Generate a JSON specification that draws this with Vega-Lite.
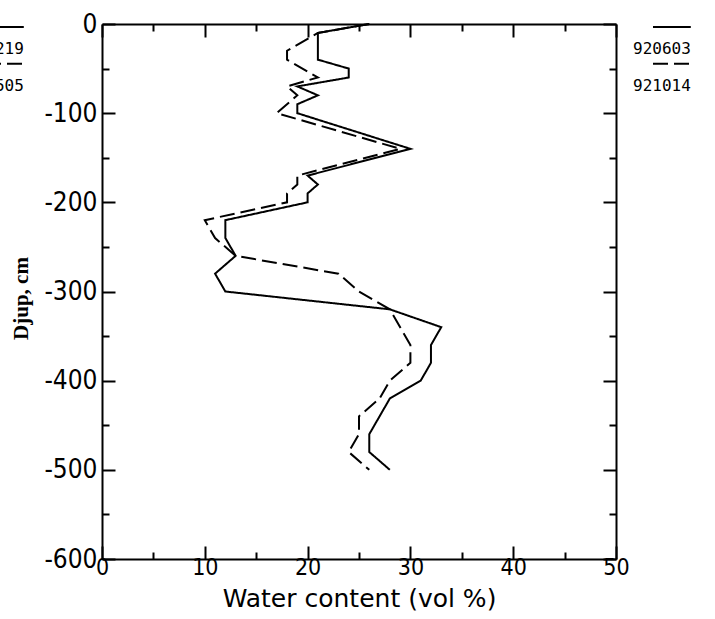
{
  "$schema": "https://vega.github.io/schema/vega-lite/v6.json",
  "width": 514,
  "height": 535,
  "autosize": "none",
  "padding": {"left": 102, "top": 24, "right": 99, "bottom": 60},
  "background": "white",
  "config": {"view": {"stroke": null}},
  "data": {"values": [
    {"s": "920603", "i": 0, "w": 26, "d": 0},
    {"s": "920603", "i": 1, "w": 21, "d": -10},
    {"s": "920603", "i": 2, "w": 21, "d": -40},
    {"s": "920603", "i": 3, "w": 24, "d": -50},
    {"s": "920603", "i": 4, "w": 24, "d": -60},
    {"s": "920603", "i": 5, "w": 19, "d": -70},
    {"s": "920603", "i": 6, "w": 21, "d": -80},
    {"s": "920603", "i": 7, "w": 19, "d": -90},
    {"s": "920603", "i": 8, "w": 19, "d": -100},
    {"s": "920603", "i": 9, "w": 30, "d": -140},
    {"s": "920603", "i": 10, "w": 20, "d": -170},
    {"s": "920603", "i": 11, "w": 21, "d": -180},
    {"s": "920603", "i": 12, "w": 20, "d": -190},
    {"s": "920603", "i": 13, "w": 20, "d": -200},
    {"s": "920603", "i": 14, "w": 12, "d": -220},
    {"s": "920603", "i": 15, "w": 12, "d": -240},
    {"s": "920603", "i": 16, "w": 13, "d": -260},
    {"s": "920603", "i": 17, "w": 11, "d": -280},
    {"s": "920603", "i": 18, "w": 12, "d": -300},
    {"s": "920603", "i": 19, "w": 28, "d": -320},
    {"s": "920603", "i": 20, "w": 33, "d": -340},
    {"s": "920603", "i": 21, "w": 32, "d": -360},
    {"s": "920603", "i": 22, "w": 32, "d": -380},
    {"s": "920603", "i": 23, "w": 31, "d": -400},
    {"s": "920603", "i": 24, "w": 28, "d": -420},
    {"s": "920603", "i": 25, "w": 26, "d": -460},
    {"s": "920603", "i": 26, "w": 26, "d": -480},
    {"s": "920603", "i": 27, "w": 28, "d": -500},
    {"s": "921014", "i": 0, "w": 26, "d": 0},
    {"s": "921014", "i": 1, "w": 21, "d": -10},
    {"s": "921014", "i": 2, "w": 19.5, "d": -20},
    {"s": "921014", "i": 3, "w": 18, "d": -30},
    {"s": "921014", "i": 4, "w": 18, "d": -40},
    {"s": "921014", "i": 5, "w": 21, "d": -60},
    {"s": "921014", "i": 6, "w": 18, "d": -70},
    {"s": "921014", "i": 7, "w": 19, "d": -80},
    {"s": "921014", "i": 8, "w": 17, "d": -100},
    {"s": "921014", "i": 9, "w": 29, "d": -140},
    {"s": "921014", "i": 10, "w": 19, "d": -170},
    {"s": "921014", "i": 11, "w": 19, "d": -180},
    {"s": "921014", "i": 12, "w": 18, "d": -190},
    {"s": "921014", "i": 13, "w": 18, "d": -200},
    {"s": "921014", "i": 14, "w": 10, "d": -220},
    {"s": "921014", "i": 15, "w": 11, "d": -240},
    {"s": "921014", "i": 16, "w": 13, "d": -260},
    {"s": "921014", "i": 17, "w": 23, "d": -280},
    {"s": "921014", "i": 18, "w": 25, "d": -300},
    {"s": "921014", "i": 19, "w": 28, "d": -320},
    {"s": "921014", "i": 20, "w": 30, "d": -360},
    {"s": "921014", "i": 21, "w": 30, "d": -380},
    {"s": "921014", "i": 22, "w": 28, "d": -400},
    {"s": "921014", "i": 23, "w": 27, "d": -420},
    {"s": "921014", "i": 24, "w": 25, "d": -440},
    {"s": "921014", "i": 25, "w": 25, "d": -460},
    {"s": "921014", "i": 26, "w": 24, "d": -480},
    {"s": "921014", "i": 27, "w": 26, "d": -500}
  ]},
  "layer": [
    {
      "mark": {"type": "line", "stroke": "black", "strokeWidth": 2},
      "encoding": {
        "x": {
          "field": "w", "type": "quantitative",
          "scale": {"domain": [0, 50], "nice": false},
          "axis": {
            "orient": "bottom",
            "values": [0, 5, 10, 15, 20, 25, 30, 35, 40, 45, 50],
            "labelExpr": "datum.value % 10 === 0 ? '' + datum.value : ''",
            "tickSize": {"condition": {"test": "datum.value % 10 === 0", "value": -13}, "value": -7},
            "tickColor": "black", "tickWidth": 2,
            "domainColor": "black", "domainWidth": 2,
            "grid": false,
            "labelFont": "DejaVu Sans Condensed, Liberation Sans Narrow, DejaVu Sans",
            "labelFontSize": 23, "labelColor": "black",
            "labelPadding": 10, "labelFlush": false, "labelOverlap": false,
            "title": "Water content (vol %)",
            "titleFont": "DejaVu Sans", "titleFontSize": 25, "titleFontWeight": "normal",
            "titleColor": "black", "titleX": 257, "titleY": 47,
            "titleAlign": "center", "titleBaseline": "alphabetic"
          }
        },
        "y": {
          "field": "d", "type": "quantitative",
          "scale": {"domain": [-600, 0], "nice": false},
          "axis": {
            "orient": "left",
            "values": [-600, -550, -500, -450, -400, -350, -300, -250, -200, -150, -100, -50, 0],
            "labelExpr": "datum.value % 100 === 0 ? '' + datum.value : ''",
            "tickSize": {"condition": {"test": "datum.value % 100 === 0", "value": -13}, "value": -7},
            "tickColor": "black", "tickWidth": 2,
            "domainColor": "black", "domainWidth": 2,
            "grid": false,
            "labelFont": "DejaVu Sans Condensed, Liberation Sans Narrow, DejaVu Sans",
            "labelFontSize": 26, "labelColor": "black",
            "labelPadding": 18, "labelFlush": false, "labelOverlap": false,
            "title": "Djup, cm",
            "titleFont": "Liberation Serif", "titleFontSize": 21, "titleFontWeight": "bold",
            "titleColor": "black", "titleAngle": 270,
            "titleX": -75, "titleY": 274, "titleAlign": "center", "titleBaseline": "alphabetic"
          }
        },
        "strokeDash": {
          "field": "s", "type": "nominal",
          "scale": {
            "domain": ["920219", "920505", "920603", "921014"],
            "range": [[1, 0], [15, 6], [1, 0], [15, 6]]
          },
          "legend": {
            "orient": "none", "legendX": -117, "legendY": 1,
            "columns": 2, "columnPadding": 609, "rowPadding": 5, "clipHeight": 31,
            "title": null, "padding": 0,
            "symbolType": "M-1,-0.42H1", "symbolSize": 4356,
            "symbolStrokeWidth": 2, "symbolStrokeColor": "black", "symbolFillColor": "transparent",
            "labelFont": "DejaVu Sans Mono", "labelFontSize": 16, "labelColor": "black",
            "labelBaseline": "top", "labelAlign": "left", "labelOffset": -87
          }
        },
        "order": {"field": "i", "type": "quantitative"}
      }
    },
    {
      "mark": {"type": "line", "opacity": 0},
      "encoding": {
        "x": {
          "field": "w", "type": "quantitative",
          "axis": {
            "orient": "top",
            "values": [0, 5, 10, 15, 20, 25, 30, 35, 40, 45, 50],
            "labels": false, "title": null,
            "tickSize": {"condition": {"test": "datum.value % 10 === 0", "value": -13}, "value": -7},
            "tickColor": "black", "tickWidth": 2,
            "domainColor": "black", "domainWidth": 2, "grid": false
          }
        },
        "y": {
          "field": "d", "type": "quantitative",
          "axis": {
            "orient": "right",
            "values": [-600, -550, -500, -450, -400, -350, -300, -250, -200, -150, -100, -50, 0],
            "labels": false, "title": null,
            "tickSize": {"condition": {"test": "datum.value % 100 === 0", "value": -13}, "value": -7},
            "tickColor": "black", "tickWidth": 2,
            "domainColor": "black", "domainWidth": 2, "grid": false
          }
        },
        "detail": {"field": "s", "type": "nominal"},
        "order": {"field": "i", "type": "quantitative"}
      }
    }
  ],
  "resolve": {"axis": {"x": "independent", "y": "independent"}}
}
